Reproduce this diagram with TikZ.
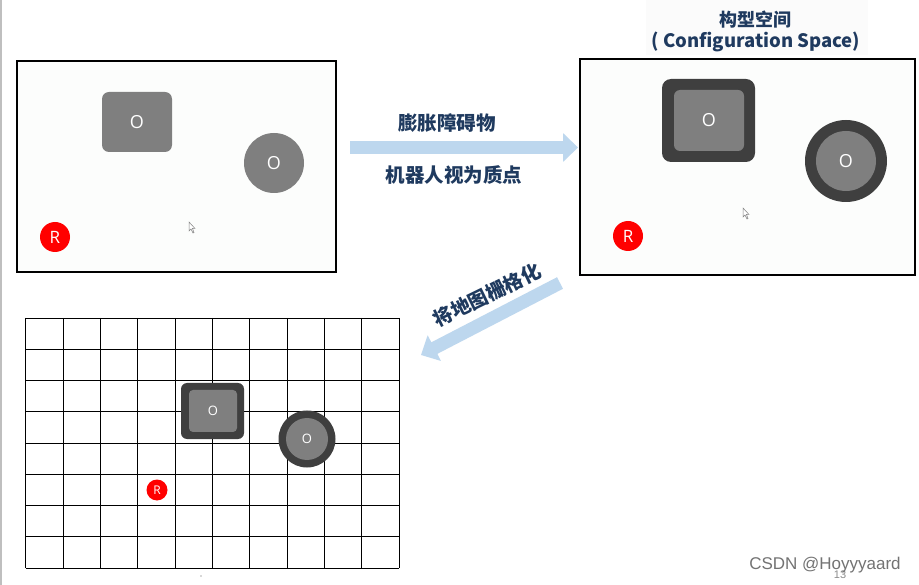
\documentclass[tikz,border=0pt]{standalone}
\usepackage{fontspec}
\setmainfont{Open Sans}
\newfontfamily\cjk{Noto Sans CJK SC}
\newfontfamily\wmfont{Liberation Sans}
\usetikzlibrary{arrows.meta}
\definecolor{navy}{HTML}{1F3A5F}
\definecolor{lblue}{HTML}{BDD7EE}
\definecolor{obs}{HTML}{7F7F7F}
\definecolor{dobs}{HTML}{3F3F3F}
\definecolor{rred}{HTML}{FF0000}
\definecolor{panelbg}{HTML}{FCFDFC}
\tikzset{
  panel/.style={draw=black, line width=2pt, fill=panelbg},
  obsbox/.style={fill=obs, rounded corners=#1, inner sep=0pt, text=white, font=\fontsize{18}{18}\selectfont},
  obscirc/.style={circle, fill=obs, inner sep=0pt, text=white, font=\fontsize{18}{18}\selectfont},
  dark/.style={fill=dobs, inner sep=0pt},
  robot/.style={circle, fill=rred, inner sep=0pt, text=white},
  lbl/.style={text=navy, font=\cjk\bfseries\fontsize{18}{18}\selectfont},
  bigarrow/.style={draw=lblue, line width=13pt, -{Triangle[width=28pt,length=15pt]}},
  gridline/.style={draw=black, line width=0.9pt},
  cursor/.style={draw=gray, fill=white, line width=0.5pt}
}
\begin{document}
\begin{tikzpicture}[x=1pt,y=-1pt]
\useasboundingbox[fill=white] (0,0) rectangle (919,585);
\draw[draw=black!25, line width=1.5pt] (0.75,0) -- (0.75,585);

% ---------- panel 1 ----------
\node[panel, minimum width=319pt, minimum height=211pt, inner sep=0pt] (box1) at (176.5,166.5) {};
\node[obsbox=7pt, minimum width=70pt, minimum height=60pt] (o1) at (137,122) {O};
\node[obscirc, minimum size=60pt] (c1) at (274,163) {O};
\node[robot, minimum size=30pt, font=\fontsize{17}{17}\selectfont] (r1) at (55,237) {R};
\draw[cursor] (189,222) -- (189,231) -- (191,229) -- (193,233) -- (194,232.5) -- (192.5,228.5) -- (195,228.5) -- cycle;

% ---------- title ----------
\fill[gray!3] (646,0) rectangle (868,55);
\node[lbl, font=\cjk\bfseries\fontsize{18}{18}\selectfont] (t1) at (755,20) {构型空间};
\node[lbl, font=\cjk\bfseries\fontsize{18.5}{18.5}\selectfont] (t2) at (756,42) {( Configuration Space)};

% ---------- panel 2 ----------
\node[panel, minimum width=335pt, minimum height=216pt, inner sep=0pt] (box2) at (747.5,167) {};
\node[dark, rounded corners=9pt, minimum width=93pt, minimum height=83pt] (d2) at (708.5,120.5) {};
\node[obsbox=6pt, minimum width=70pt, minimum height=61pt] (o2) at (709,120.5) {O};
\node[dark, circle, minimum size=82pt] (dc2) at (846,161) {};
\node[obscirc, minimum size=60pt] (c2) at (846,161) {O};
\node[robot, minimum size=30pt, font=\fontsize{17}{17}\selectfont] (r2) at (628,236) {R};
\draw[cursor] (743,208) -- (743,217) -- (745,215) -- (747,219) -- (748,218.5) -- (746.5,214.5) -- (749,214.5) -- cycle;

% ---------- arrow 1 ----------
\coordinate (a1s) at (350,147.5);
\coordinate (a1e) at (578,147.5);
\draw[bigarrow] (a1s) -- (a1e);
\node[lbl, font=\cjk\bfseries\fontsize{19.5}{19.5}\selectfont] (l1) at (447,123) {膨胀障碍物};
\node[lbl, font=\cjk\bfseries\fontsize{19.5}{19.5}\selectfont] (l2) at (454,175) {机器人视为质点};

% ---------- arrow 2 ----------
\coordinate (a2s) at (560,283);
\coordinate (a2e) at (421,355);
\draw[bigarrow] (a2s) -- (a2e);
\node[lbl, rotate=26, font=\cjk\bfseries\fontsize{19.5}{19.5}\selectfont] (l3) at (487,295) {将地图栅格化};

% ---------- grid ----------
\foreach \i in {0,...,10} {
  \draw[gridline] ({25.7+\i*37.33},318) -- ({25.7+\i*37.33},568);
}
\foreach \j in {0,...,8} {
  \draw[gridline] (25.7,{318+\j*31.25}) -- (399,{318+\j*31.25});
}
\node[dark, rounded corners=6pt, minimum width=63pt, minimum height=56pt] (d3) at (212.5,411) {};
\node[obsbox=4pt, minimum width=48pt, minimum height=42pt, font=\fontsize{13}{13}\selectfont] (o3) at (213,411) {O};
\node[dark, circle, minimum size=57pt] (dc3) at (307,439) {};
\node[obscirc, minimum size=42pt, font=\fontsize{13}{13}\selectfont] (c3) at (307,439) {O};
\node[robot, minimum size=21pt, font=\fontsize{12}{12}\selectfont] (r3) at (157,490) {R};
\fill[gray!60] (201,576) circle (0.8pt);

% ---------- watermark ----------
\node[text=black!45, font=\wmfont\fontsize{11}{11}\selectfont] (pg) at (840,575) {13};
\node[text=black!55, font=\wmfont\fontsize{17}{17}\selectfont] (wm) at (825,565) {CSDN @Hoyyyaard};
\end{tikzpicture}
\end{document}
